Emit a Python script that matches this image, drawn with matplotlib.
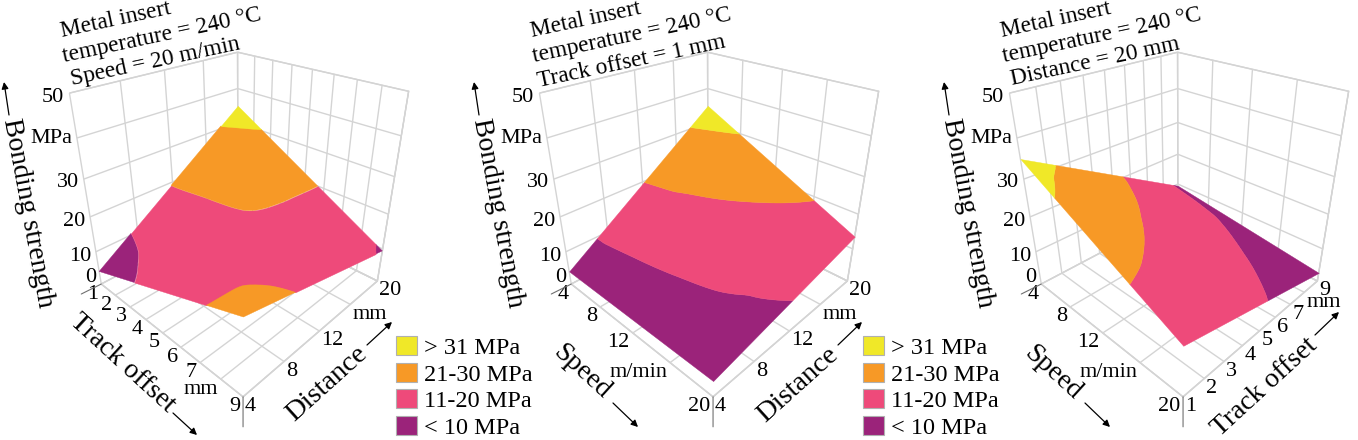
import matplotlib
matplotlib.use("Agg")
import matplotlib.pyplot as plt
import numpy as np
from matplotlib import tri
from matplotlib.patches import Patch
from mpl_toolkits.mplot3d import proj3d
from mpl_toolkits.mplot3d.art3d import Poly3DCollection

plt.rcParams["font.family"] = ["Liberation Serif", "DejaVu Serif"]

# Bands and legend
band_edges = [-5, 10.5, 20.5, 31, 60]
band_colors = ["#9b237a", "#ee4a7a", "#f79926", "#f0e828"]
legend_labels = ["> 31 MPa", "21-30 MPa", "11-20 MPa", "< 10 MPa"]

# Axis values
track_ticks = [1, 2, 3, 4, 5, 6, 7, 8, 9]
track_labels = ["1", "2", "3", "4", "5", "6", "7", "mm", "9"]
speed_ticks = [4, 8, 12, 16, 20]
speed_labels = ["4", "8", "12", "m/min", "20"]
dist_ticks = [4, 8, 12, 16, 20]
dist_labels = ["4", "8", "12", "mm", "20"]
z_ticks = [0, 10, 20, 30, 40, 50]
z_labels = ["0", "10", "20", "30", "MPa", "50"]
z_label_dy = [7, -5, -5, -3, -1, -4]

track_nodes = [1, 3, 5, 7, 9]
speed_nodes = [4, 8, 12, 16, 20]
dist_nodes = [4, 8, 12, 16, 20]

# Heights of the drawn sheet at its corners: (low, low), (high, low), (low, high), (high, high)
corners_track_dist = [4.0, 20.5, 35.0, 9.4]
corners_speed_dist = [4.0, 4.4, 35.0, 13.6]
corners_speed_track = [35.0, 13.6, 9.4, 2.6]

strength_track_dist = [
    [4.0, 9.1, 14.2, 19.3, 24.4],
    [11.9, 14.5, 17.0, 19.6, 21.2],
    [20.8, 19.9, 19.5, 18.8, 17.5],
    [27.8, 24.5, 21.2, 17.3, 13.4],
    [35.0, 29.6, 23.0, 16.0, 9.4],
]
strength_speed_dist = [
    [4.0, 4.6, 4.8, 4.6, 4.4],
    [12.7, 11.6, 10.4, 9.4, 8.2],
    [20.2, 18.1, 15.6, 12.6, 10.5],
    [28.0, 24.3, 20.7, 17.0, 12.3],
    [35.0, 30.8, 25.0, 20.5, 13.6],
]
strength_speed_track = [
    [35.0, 30.8, 25.0, 19.6, 13.6],
    [29.0, 24.7, 20.8, 16.9, 12.8],
    [22.2, 19.5, 16.4, 13.6, 10.9],
    [15.8, 14.7, 12.3, 9.9, 8.5],
    [9.4, 8.7, 7.5, 5.0, 4.0],
]

W, H = 1358, 440
grid_col = "#d4d4d4"

fig = plt.figure(figsize=(W / 100, H / 100), dpi=100)
ov = fig.add_axes([0, 0, 1, 1], zorder=5)
ov.set_xlim(0, W)
ov.set_ylim(H, 0)
ov.axis("off")


def band_polygons(xn, yn, zn, corners):
    # smooth the read values with the tri tools, then cut them into bands
    X, Y = np.meshgrid(xn, yn)
    z = np.array(zn).ravel()
    t = tri.Triangulation(X.ravel(), Y.ravel())
    ref = tri.UniformTriRefiner(t)
    t2, z2 = ref.refine_field(z, tri.CubicTriInterpolator(t, z, kind="geom"), subdiv=4)
    tmp_fig, tmp_ax = plt.subplots()
    cs = tmp_ax.tricontourf(t2, z2, levels=band_edges)
    out = []
    for path in cs.get_paths():
        polys = []
        for p in path.to_polygons(closed_only=True):
            a = (p[:, 0] - min(xn)) / (max(xn) - min(xn))
            b = (p[:, 1] - min(yn)) / (max(yn) - min(yn))
            h = (corners[0] * (1 - a) * (1 - b) + corners[1] * a * (1 - b)
                 + corners[2] * (1 - a) * b + corners[3] * a * b)
            polys.append(np.column_stack([p[:, 0], p[:, 1], h]))
        out.append(polys)
    plt.close(tmp_fig)
    return out


def draw_panel(off, xn, yn, zn, corners, xt, xl, yt, yl):
    size = 362
    ax = fig.add_axes([(54 + off) / W, 57 / H, size / W, size / H], projection="3d")
    ax.set_proj_type("persp", focal_length=0.26)
    ax.view_init(elev=29, azim=-46)
    ax.set_box_aspect((1, 1, 1))
    ax.patch.set_alpha(0)
    ax.set_xlim(min(xn), max(xn))
    ax.set_ylim(min(yn), max(yn))
    ax.set_zlim(0, 50)
    ax.set_xticks(xt)
    ax.set_yticks(yt)
    ax.set_zticks(z_ticks)
    ax.set_xticklabels([])
    ax.set_yticklabels([])
    ax.set_zticklabels([])
    for a in (ax.xaxis, ax.yaxis, ax.zaxis):
        a.set_pane_color((1, 1, 1, 1))
        a.pane.set_edgecolor(grid_col)
        a.line.set_color(grid_col)
        a._axinfo["grid"].update(color=grid_col, linewidth=1.0)
        a._axinfo["tick"].update(inward_factor=0, outward_factor=0)

    ax.computed_zorder = False
    for polys, col in zip(band_polygons(xn, yn, zn, corners), band_colors):
        if polys:
            ax.add_collection3d(Poly3DCollection(polys, facecolors=col, edgecolors=col,
                                                 linewidths=0.3, zorder=3))

    M = ax.get_proj()

    def put(label, x, y, z, dx, dy, ha="center"):
        px, py, _ = proj3d.proj_transform(x, y, z, M)
        ax.annotate(label, (px, py), xytext=(dx, dy), textcoords="offset pixels",
                    ha=ha, va="center", fontsize=16, annotation_clip=False)

    def stub(x, y, z, dx, dy):
        px, py, _ = proj3d.proj_transform(x, y, z, M)
        ax.annotate("", (px, py), xytext=(dx, dy), textcoords="offset pixels", annotation_clip=False,
                    arrowprops=dict(arrowstyle="-", color="#707070", lw=0.8, shrinkA=0, shrinkB=0))

    for v, lab in zip(xt, xl):
        put(lab, v, min(yn), 0, -3, -10, ha="right")
    for v, lab in zip(yt, yl):
        put(lab, max(xn), v, 0, 2, -10, ha="left")
    for v, lab, dy in zip(z_ticks, z_labels, z_label_dy):
        put(lab, min(xn), min(yn), v, -5, dy, ha="right")
    stub(min(xn), min(yn), 0, -20, -10)
    stub(max(xn), min(yn), 0, 0, -30)
    return ax


def side_text(x, y, s, rot, size):
    ov.text(x, y, s, rotation=rot, rotation_mode="anchor", ha="center", va="center", fontsize=size)


def arrow(x0, y0, x1, y1):
    ov.annotate("", (x1, y1), (x0, y0),
                arrowprops=dict(arrowstyle="-|>", color="black", lw=0.9, mutation_scale=10, shrinkA=0, shrinkB=0))


def header(off, third, third_x):
    side_text(116 + off, 20, "Metal insert", 12, 16.8)
    side_text(162 + off, 36, "temperature = 240 °C", 12, 16.8)
    side_text(third_x, 62, third, 12, 16.8)
    side_text(28 + off, 213, "Bonding strength", -79.5, 20)
    arrow(9 + off, 115, 4 + off, 82)


draw_panel(0, track_nodes, dist_nodes, strength_track_dist, corners_track_dist,
           track_ticks, track_labels, dist_ticks, dist_labels)
draw_panel(470, speed_nodes, dist_nodes, strength_speed_dist, corners_speed_dist,
           speed_ticks, speed_labels, dist_ticks, dist_labels)
draw_panel(940, speed_nodes, track_nodes, strength_speed_track, corners_speed_track,
           speed_ticks, speed_labels, track_ticks, track_labels)

header(0, "Speed = 20 m/min", 155)
header(470, "Track offset = 1 mm", 632)
header(940, "Distance = 20 mm", 1095)

side_text(122, 363, "Track offset", -42.5, 20)
arrow(173, 413, 197, 435)
side_text(327, 384, "Distance", 42, 20.5)
arrow(367, 345, 392, 322)
side_text(582, 372, "Speed", -42.5, 20)
arrow(613, 403, 638, 427)
side_text(798, 385, "Distance", 42, 20.5)
arrow(838, 345, 862, 322)
side_text(1053, 373, "Speed", -42.5, 20)
arrow(1085, 403, 1110, 427)
side_text(1265, 387, "Track offset", 42.5, 20)
arrow(1315, 335, 1339, 312)

handles = [Patch(facecolor=c, edgecolor="#b0b0b0", linewidth=0.8) for c in band_colors[::-1]]
for lx in (396, 863):
    fig.legend(handles=handles, labels=legend_labels, loc="upper left",
               bbox_to_anchor=(lx / W, 1 - 336 / H), frameon=False, fontsize=17.5,
               handlelength=0.86, handleheight=0.85, labelspacing=0.14, handletextpad=0.3,
               borderpad=0, borderaxespad=0)

fig.savefig("out.png", dpi=100)
